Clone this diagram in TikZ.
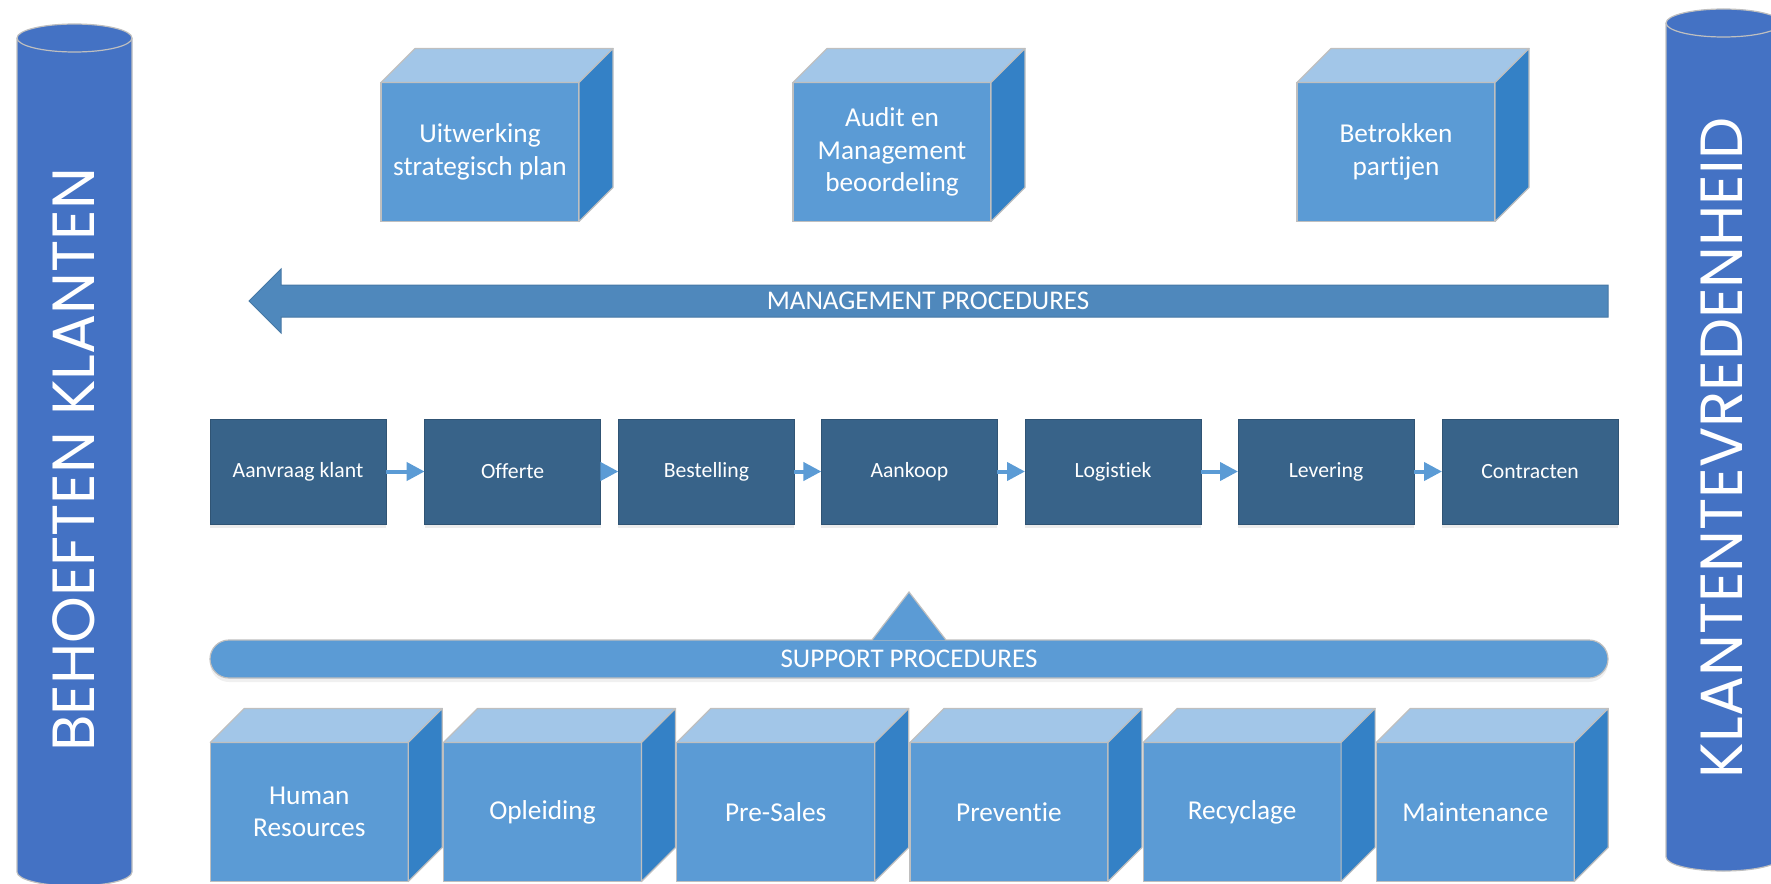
\documentclass[tikz,border=0pt]{standalone}
\usepackage{fontspec}
\setmainfont{Carlito}[Ligatures=NoCommon]
\newfontfamily\cylfont{Poppins}
\usetikzlibrary{calc,arrows.meta,shadows}

\definecolor{cubefront}{HTML}{5B9BD5}
\definecolor{cubetop}{HTML}{A2C6E8}
\definecolor{cubeside}{HTML}{3481C6}
\definecolor{procblue}{HTML}{386389}
\definecolor{mgmtblue}{HTML}{4F88BC}
\definecolor{cylblue}{HTML}{4472C4}
\definecolor{edgegray}{HTML}{BFBFBF}

\begin{document}
\begin{tikzpicture}[x=1pt, y=-1pt,
		cube/.style={rectangle, fill=cubefront, draw=edgegray, line width=1.2pt, text=white, align=center,
			minimum width=198pt, minimum height=139pt, inner sep=0pt, outer sep=0pt,
			font=\fontsize{27.3}{32.5}\selectfont},
		cubetopface/.style={fill=cubetop, draw=edgegray, line width=1.2pt, line join=round},
		cubesideface/.style={fill=cubeside, draw=edgegray, line width=1.2pt, line join=round},
		proc/.style={rectangle, fill=procblue, draw=procblue!85!black, line width=1pt, text=white,
			minimum width=176pt, minimum height=105pt, inner sep=0pt, outer sep=0pt,
			font=\fontsize{21.7}{26}\selectfont,
			drop shadow={shadow xshift=0pt, shadow yshift=-4pt, opacity=0.15}},
		flow/.style={draw=cubefront, line width=4pt, -{Triangle[length=18pt,width=18pt]}},
		bartext/.style={text=white, font=\fontsize{27}{32}\selectfont},
		supportbar/.style={rectangle, rounded corners=19pt, fill=cubefront, draw=edgegray, line width=1.2pt,
			minimum width=1398pt, minimum height=38pt, inner sep=0pt, outer sep=0pt, bartext,
			drop shadow={shadow xshift=0pt, shadow yshift=-4pt, opacity=0.12}},
		cyl/.style={fill=cylblue, draw=edgegray, line width=1.2pt},
		cyltext/.style={text=white, rotate=90, font=\cylfont\fontsize{59.5}{64}\selectfont}]

		\useasboundingbox (0,0) rectangle (1771,883);
		\clip (0,0) rectangle (1771,883);

		% Cylinders
		\filldraw[cyl] (17,38) -- (17,872) arc[start angle=180, end angle=0, x radius=57.5, y radius=14]
			-- (132,38) arc[start angle=360, end angle=180, x radius=57.5, y radius=14] -- cycle;
		\draw[edgegray, line width=1.2pt] (17,38) arc[start angle=180, end angle=0, x radius=57.5, y radius=14];
		\node[cyltext] (needs) at (74,460) {BEHOEFTEN KLANTEN};

		\filldraw[cyl] (1666,23) -- (1666,857) arc[start angle=180, end angle=0, x radius=57.5, y radius=14]
			-- (1781,23) arc[start angle=360, end angle=180, x radius=57.5, y radius=14] -- cycle;
		\draw[edgegray, line width=1.2pt] (1666,23) arc[start angle=180, end angle=0, x radius=57.5, y radius=14];
		\node[cyltext] (satisfaction) at (1722,448) {KLANTENTEVREDENHEID};

		% Top cubes
		\node[cube] (plan) at (480,152) {Uitwerking\\strategisch plan};
		\node[cube] (audit) at (892,152) {Audit en\\Management\\beoordeling};
		\node[cube] (parties) at (1396,152) {Betrokken\\partijen};

		% Management procedures
		\filldraw[fill=mgmtblue, draw=mgmtblue!88!black, line width=1pt]
			(1608,285) -- (281,285) -- (281,269) -- (249,301) -- (281,333) -- (281,317) -- (1608,317) -- cycle;
		\node[bartext] (mgmt) at (928,301) {MANAGEMENT PROCEDURES};

		% Process chain
		\node[proc] (request) at (298,471.5) {Aanvraag klant};
		\node[proc] (quote) at (512.6,471.5) {Offerte};
		\node[proc] (order) at (706.4,471.5) {Bestelling};
		\node[proc] (purchase) at (909.4,471.5) {Aankoop};
		\node[proc] (logistics) at (1113,471.5) {Logistiek};
		\node[proc] (delivery) at (1326,471.5) {Levering};
		\node[proc] (contracts) at (1530,471.5) {Contracten};
		\foreach \a/\b in {request/quote, quote/order, order/purchase, purchase/logistics,
			logistics/delivery, delivery/contracts}
			\draw[flow] (\a) -- (\b);

		% Support procedures
		\node[supportbar] (support) at (909,659) {SUPPORT PROCEDURES};
		\filldraw[fill=cubefront, draw=edgegray, line width=1.2pt]
			([xshift=-37pt]support.north) -- ++(37,-48) -- ([xshift=37pt]support.north);

		% Bottom cubes
		\node[cube] (hr) at (309.3,812) {Human\\Resources};
		\node[cube] (training) at (542.5,812) {Opleiding};
		\node[cube] (presales) at (775.7,812) {Pre-Sales};
		\node[cube] (prevention) at (1008.9,812) {Preventie};
		\node[cube] (recycling) at (1242.1,812) {Recyclage};
		\node[cube] (maintenance) at (1475.3,812) {Maintenance};

		% Cube faces
		\foreach \c in {plan,audit,parties,hr,training,presales,prevention,recycling,maintenance} {
			\filldraw[cubetopface] (\c.north west) -- ++(34,-34) -- ($(\c.north east)+(34,-34)$) -- (\c.north east) -- cycle;
			\filldraw[cubesideface] (\c.north east) -- ++(34,-34) -- ($(\c.south east)+(34,-34)$) -- (\c.south east) -- cycle;
		}
	\end{tikzpicture}
\end{document}
